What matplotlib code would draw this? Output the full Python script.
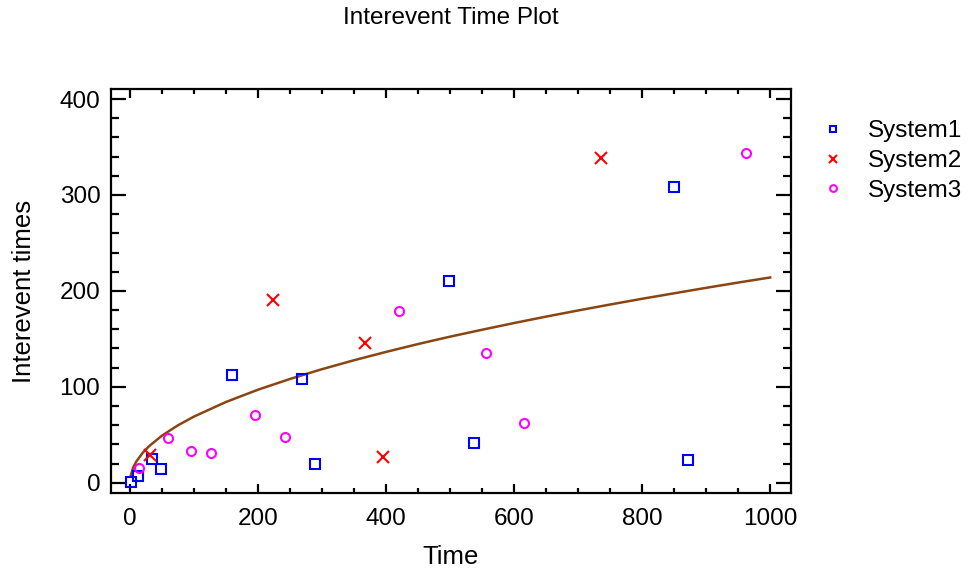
import numpy as np
import matplotlib.pyplot as plt

plt.rcParams['font.family'] = ['Liberation Sans', 'DejaVu Sans']

# System 1 failure times and interevent times
sys1_time = [1, 12, 35, 48, 160, 269, 289, 498, 538, 850, 872]
sys1_gap = [1, 7, 25, 14, 112, 108, 20, 210, 41, 308, 24]

# System 2
sys2_time = [31, 224, 367, 395, 736]
sys2_gap = [29, 191, 146, 27, 339]

# System 3
sys3_time = [14, 60, 95, 126, 195, 242, 420, 556, 616, 963]
sys3_gap = [15, 47, 33, 31, 71, 48, 179, 135, 62, 344]

# fitted curve
fit_time = [1, 5, 10, 20, 30, 50, 75, 100, 150, 200, 250, 300, 350, 400, 450,
            500, 550, 600, 650, 700, 750, 800, 850, 900, 950, 1000]
fit_gap = [7, 15.8, 22.2, 31.3, 38.2, 49.1, 59.9, 69.0, 84.2, 97.0, 108.2, 118.4,
           127.7, 136.4, 144.6, 152.3, 159.5, 166.5, 173.2, 179.6, 185.8, 191.8,
           197.5, 203.2, 208.7, 214.0]

fig = plt.figure(figsize=(9.68, 5.73), dpi=100)
ax = fig.add_axes([0.1144, 0.1396, 0.7024, 0.7051])

ax.plot(fit_time, fit_gap, color='#8B4513', lw=1.8, zorder=2)
ax.plot(sys1_time, sys1_gap, ls='none', marker='s', ms=6.5, mfc='none', mec='blue', mew=1.5, label='System1')
ax.plot(sys2_time, sys2_gap, ls='none', marker='x', ms=8, color='red', mew=1.5, label='System2')
ax.plot(sys3_time, sys3_gap, ls='none', marker='o', ms=6.5, mfc='none', mec='magenta', mew=1.5, label='System3')

ax.set_xlim(-30, 1032)
ax.set_ylim(-10.7, 410.5)
ax.set_xticks(np.arange(0, 1001, 200))
ax.set_xticks(np.arange(0, 1001, 50), minor=True)
ax.set_yticks(np.arange(0, 401, 100))
ax.set_yticks(np.arange(0, 401, 20), minor=True)

for s in ax.spines.values():
    s.set_linewidth(1.6)
ax.tick_params(which='both', direction='in', top=True, right=True, width=1.6, labelsize=17.5)
ax.tick_params(axis='x', which='major', length=6.5, pad=11)
ax.tick_params(axis='x', which='minor', length=3.6)
ax.tick_params(axis='y', which='major', length=10.8, pad=7.5)
ax.tick_params(axis='y', which='minor', length=5.8)

ax.set_xlabel('Time', fontsize=18.5)
ax.set_ylabel('Interevent times', fontsize=18.5)
ax.xaxis.set_label_coords(0.5, -0.128)
ax.yaxis.set_label_coords(-0.11, 0.5)
fig.text(0.4656, 0.9686, 'Interevent Time Plot', fontsize=17.5, ha='center', va='center')

fig.legend(loc='upper left', bbox_to_anchor=(0.848, 0.79), frameon=False, fontsize=17.5,
           markerscale=0.75, handlelength=1.0, handletextpad=0.94, labelspacing=0.32,
           borderpad=0, borderaxespad=0)

fig.savefig('out.png', dpi=100)
